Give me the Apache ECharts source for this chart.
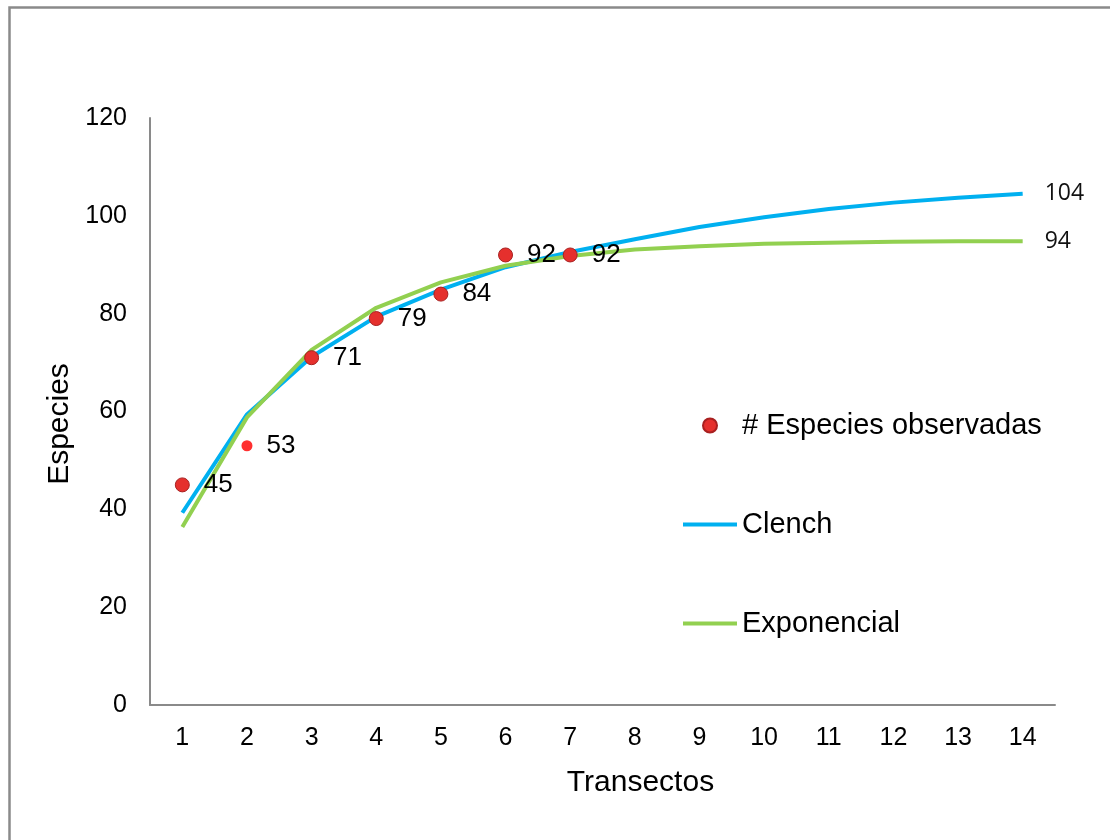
<!DOCTYPE html>
<html>
<head>
<meta charset="utf-8">
<script src="https://cdn.jsdelivr.net/npm/echarts@6/dist/echarts.min.js"></script>
<style>
html,body{margin:0;padding:0;background:#fff;}
#chart{width:1110px;height:840px;}
</style>
</head>
<body>
<div id="chart"></div>
<script>
const categories = ['1','2','3','4','5','6','7','8','9','10','11','12','13','14'];
const observed = [45, 53, 71, 79, 84, 92, 92];
const clench = [39.3, 59.4, 71.2, 79.4, 84.9, 89.5, 92.6, 95.2, 97.7, 99.7, 101.4, 102.7, 103.7, 104.5];
const exponencial = [36.4, 58.8, 72.6, 81.2, 86.4, 89.8, 91.8, 93.1, 93.8, 94.3, 94.5, 94.7, 94.8, 94.8];
const seriesNames = ['# Especies observadas', 'Clench', 'Exponencial'];
const yTicks = { min: 0, max: 120, interval: 20 };

const chart = echarts.init(document.getElementById('chart'));
const font = '"Liberation Sans", Arial, sans-serif';
const scatterData = observed.map((v, i) => i === 1
  ? { value: v, symbolSize: 11, itemStyle: { color: '#FF3030', borderWidth: 0 } }
  : v);
const endLbl = {
  show: true,
  formatter: p => String(Math.floor(p.value)),
  fontFamily: '"Open Sans", sans-serif',
  fontSize: 23,
  color: '#111',
  distance: 22
};
const lineIcon = 'path://M0,0H54V4H0Z';
chart.setOption({
  animation: false,
  backgroundColor: '#fff',
  graphic: [{
    type: 'rect', left: 7, top: 5, silent: true,
    shape: { width: 1300, height: 1000 },
    style: { fill: 'none', stroke: '#8a8a8a', lineWidth: 2.5 }
  }],
  grid: { left: 150, right: 55, top: 118, bottom: 135, containLabel: false },
  legend: {
    orient: 'vertical',
    left: 678, top: 406,
    itemWidth: 54, itemHeight: 14, itemGap: 70,
    data: [
      { name: seriesNames[0], icon: 'circle' },
      { name: seriesNames[1], icon: lineIcon },
      { name: seriesNames[2], icon: lineIcon }
    ],
    textStyle: { fontFamily: font, fontSize: 29, color: '#000' }
  },
  xAxis: {
    type: 'category',
    data: categories,
    boundaryGap: true,
    name: 'Transectos',
    nameLocation: 'middle',
    nameGap: 63,
    nameTextStyle: { fontFamily: font, fontSize: 30, color: '#000', padding: [0, 0, 0, 76] },
    axisLine: { lineStyle: { color: '#8a8a8a', width: 2 } },
    axisTick: { show: false },
    axisLabel: { fontFamily: font, fontSize: 25, color: '#000', margin: 21 }
  },
  yAxis: {
    type: 'value',
    min: yTicks.min, max: yTicks.max, interval: yTicks.interval,
    name: 'Especies',
    nameLocation: 'middle',
    nameGap: 62,
    nameTextStyle: { fontFamily: font, fontSize: 30, color: '#000', padding: [0, 25, 0, 0] },
    axisLine: { show: true, lineStyle: { color: '#8a8a8a', width: 2 } },
    axisTick: { show: false },
    splitLine: { show: false },
    axisLabel: { fontFamily: font, fontSize: 25, color: '#000', margin: 23 }
  },
  series: [
    {
      name: seriesNames[1], type: 'line', data: clench,
      showSymbol: false, symbol: 'none', z: 2,
      lineStyle: { color: '#00B0F0', width: 4 },
      itemStyle: { color: '#00B0F0' },
      endLabel: endLbl
    },
    {
      name: seriesNames[2], type: 'line', data: exponencial,
      showSymbol: false, symbol: 'none', z: 3,
      lineStyle: { color: '#92D050', width: 4 },
      itemStyle: { color: '#92D050' },
      endLabel: endLbl
    },
    {
      name: seriesNames[0], type: 'scatter', data: scatterData,
      symbolSize: 14, z: 5,
      itemStyle: { color: '#E5302D', borderColor: '#A82020', borderWidth: 1, opacity: 1 },
      label: {
        show: true, position: 'right', distance: 14,
        fontFamily: font, fontSize: 26, color: '#000'
      }
    }
  ]
});
</script>
</body>
</html>
